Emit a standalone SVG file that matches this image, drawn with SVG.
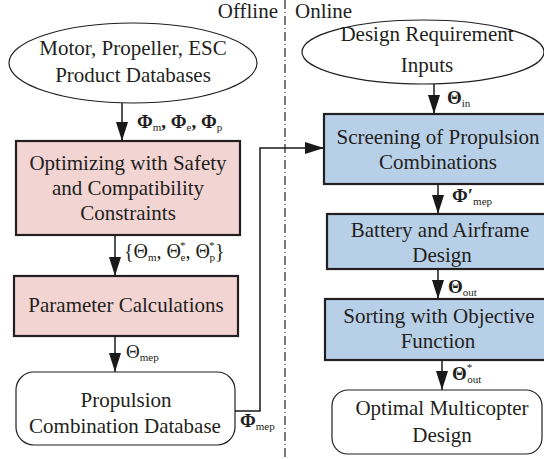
<svg xmlns="http://www.w3.org/2000/svg" width="544" height="459" viewBox="0 0 544 459" font-family="'Liberation Serif', 'Times New Roman', serif">
  <defs>
    <marker id="arrow" viewBox="0 0 19 12" refX="19" refY="6" markerWidth="19" markerHeight="12" markerUnits="userSpaceOnUse" orient="auto">
      <path d="M0,0 L19,6 L0,12 Z" fill="#1a1a1a"/>
    </marker>
    <style>
      text { fill: #231f20; font-family: 'Liberation Serif', 'Times New Roman', serif; }
      .t { font-size: 21px; text-anchor: middle; }
      .lbl { font-size: 19px; }
      .b { font-weight: bold; }
      .sub { font-size: 11px; font-weight: normal; }
      .sup { font-size: 11px; font-weight: normal; }
      .ell { fill: #ffffff; stroke: #231f20; stroke-width: 1.2; }
      .pink { fill: #f2d4d3; stroke: #231f20; stroke-width: 2.2; }
      .blue { fill: #b8cfe8; stroke: #231f20; stroke-width: 2.2; }
      .rr { fill: #ffffff; stroke: #231f20; stroke-width: 1.2; }
      .conn { fill: none; stroke: #1a1a1a; stroke-width: 1.5; marker-end: url(#arrow); }
      .divider { stroke: #231f20; stroke-width: 1.2; stroke-dasharray: 9 3 1 3; }
    </style>
  </defs>

  <!-- offline / online split -->
  <line class="divider" x1="285" y1="0" x2="285" y2="459"/>
  <text class="t" x="278" y="18" style="text-anchor:end">Offline</text>
  <text class="t" x="295" y="18" style="text-anchor:start">Online</text>

  <!-- offline nodes -->
  <g id="product-databases">
    <ellipse class="ell" cx="133" cy="63" rx="124" ry="40"/>
    <text class="t" x="133" y="55">Motor, Propeller, ESC</text>
    <text class="t" x="133" y="82">Product Databases</text>
  </g>
  <g id="optimizing">
    <rect class="pink" x="16" y="141" width="224" height="94"/>
    <text class="t" x="128" y="170">Optimizing with Safety</text>
    <text class="t" x="128" y="195">and Compatibility</text>
    <text class="t" x="128" y="220">Constraints</text>
  </g>
  <g id="parameter-calculations">
    <rect class="pink" x="14" y="276" width="224" height="60"/>
    <text class="t" x="126" y="312">Parameter Calculations</text>
  </g>
  <g id="combination-database">
    <rect class="rr" x="16" y="372" width="219" height="73" rx="18"/>
    <text class="t" x="126" y="407">Propulsion</text>
    <text class="t" x="125" y="433">Combination Database</text>
  </g>

  <!-- online nodes -->
  <g id="design-requirement">
    <ellipse class="ell" cx="423" cy="52" rx="121" ry="32"/>
    <text class="t" x="427" y="41">Design Requirement</text>
    <text class="t" x="427" y="72">Inputs</text>
  </g>
  <g id="screening">
    <rect class="blue" x="324" y="114" width="230" height="70"/>
    <text class="t" x="438" y="144">Screening of Propulsion</text>
    <text class="t" x="438" y="169">Combinations</text>
  </g>
  <g id="battery-airframe">
    <rect class="blue" x="327" y="214" width="230" height="55"/>
    <text class="t" x="440" y="237">Battery and Airframe</text>
    <text class="t" x="442" y="262">Design</text>
  </g>
  <g id="sorting">
    <rect class="blue" x="325" y="299" width="230" height="61"/>
    <text class="t" x="439" y="323">Sorting with Objective</text>
    <text class="t" x="438" y="348">Function</text>
  </g>
  <g id="optimal-design">
    <rect class="rr" x="332" y="390" width="210" height="64" rx="16"/>
    <text class="t" x="442" y="415">Optimal Multicopter</text>
    <text class="t" x="442" y="442">Design</text>
  </g>

  <!-- connectors -->
  <g id="connectors">
    <line class="conn" x1="122" y1="103" x2="122" y2="141"/>
    <line class="conn" x1="115" y1="235" x2="115" y2="276"/>
    <line class="conn" x1="115" y1="336" x2="115" y2="372"/>
    <polyline class="conn" points="235,411 260,411 260,148 324,148"/>
    <line class="conn" x1="434" y1="84" x2="434" y2="114"/>
    <line class="conn" x1="438" y1="184" x2="438" y2="214"/>
    <line class="conn" x1="438" y1="269" x2="438" y2="299"/>
    <line class="conn" x1="442" y1="360" x2="442" y2="390"/>
  </g>

  <!-- connector labels -->
  <g id="labels">
    <text class="lbl b" x="137" y="128">Φ<tspan class="sub" dy="3">m</tspan><tspan dy="-3">, Φ</tspan><tspan class="sub" dy="3">e</tspan><tspan dy="-3">, Φ</tspan><tspan class="sub" dy="3">p</tspan></text>
    <text class="lbl" x="124" y="258" style="font-size:20px">{Θ<tspan class="sub" dy="3">m</tspan><tspan dy="-3">, Θ</tspan><tspan class="sup" dx="-1" dy="-9">*</tspan><tspan class="sub" dx="-5" dy="12">e</tspan><tspan dy="-3">, Θ</tspan><tspan class="sup" dx="-1" dy="-9">*</tspan><tspan class="sub" dx="-5" dy="12">p</tspan><tspan dy="-3">}</tspan></text>
    <text class="lbl" x="126" y="358">Θ<tspan class="sub" dy="3">mep</tspan></text>
    <text class="lbl b" x="240" y="427">Φ<tspan class="sub" dy="3">mep</tspan></text>
    <text class="lbl b" x="447" y="104">Θ<tspan class="sub" dy="3">in</tspan></text>
    <text class="lbl b" x="452" y="202">Φ′<tspan class="sub" dy="3">mep</tspan></text>
    <text class="lbl b" x="448" y="293">Θ<tspan class="sub" dy="3">out</tspan></text>
    <text class="lbl b" x="452" y="380">Θ<tspan class="sup" dy="-9">*</tspan><tspan class="sub" dx="-5" dy="12">out</tspan></text>
  </g>
</svg>
